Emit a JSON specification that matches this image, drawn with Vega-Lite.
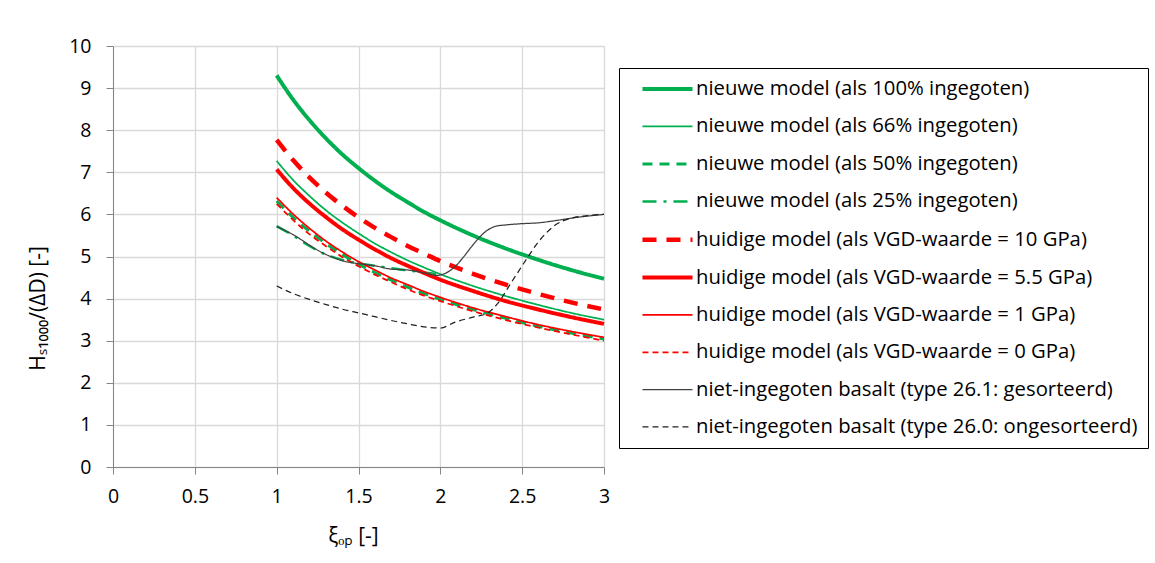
{
  "$schema": "https://vega.github.io/schema/vega-lite/v6.json",
  "width": 491,
  "height": 421,
  "autosize": {"type": "none"},
  "padding": {"left": 113, "top": 46, "right": 551, "bottom": 96},
  "background": "white",
  "config": {
    "view": {"stroke": null},
    "font": "Open Sans",
    "axis": {
      "labelFont": "Open Sans",
      "titleFont": "Open Sans",
      "labelFontSize": 19.5,
      "titleFontSize": 21,
      "labelColor": "#000000",
      "titleColor": "#000000",
      "titleFontWeight": "normal",
      "gridColor": "#d9d9d9",
      "gridWidth": 1.3,
      "domainColor": "#868686",
      "tickColor": "#868686",
      "tickSize": 7,
      "labelFlush": false
    },
    "legend": {"labelFont": "Open Sans"}
  },
  "data": {
    "values": [
      {"s": "nieuwe model (als 100% ingegoten)", "x": 1.0, "y": 9.30},
      {"s": "nieuwe model (als 100% ingegoten)", "x": 1.1, "y": 8.73},
      {"s": "nieuwe model (als 100% ingegoten)", "x": 1.2, "y": 8.24},
      {"s": "nieuwe model (als 100% ingegoten)", "x": 1.3, "y": 7.81},
      {"s": "nieuwe model (als 100% ingegoten)", "x": 1.4, "y": 7.43},
      {"s": "nieuwe model (als 100% ingegoten)", "x": 1.5, "y": 7.10},
      {"s": "nieuwe model (als 100% ingegoten)", "x": 1.6, "y": 6.80},
      {"s": "nieuwe model (als 100% ingegoten)", "x": 1.7, "y": 6.53},
      {"s": "nieuwe model (als 100% ingegoten)", "x": 1.8, "y": 6.29},
      {"s": "nieuwe model (als 100% ingegoten)", "x": 1.9, "y": 6.06},
      {"s": "nieuwe model (als 100% ingegoten)", "x": 2.0, "y": 5.86},
      {"s": "nieuwe model (als 100% ingegoten)", "x": 2.2, "y": 5.50},
      {"s": "nieuwe model (als 100% ingegoten)", "x": 2.4, "y": 5.19},
      {"s": "nieuwe model (als 100% ingegoten)", "x": 2.6, "y": 4.92},
      {"s": "nieuwe model (als 100% ingegoten)", "x": 2.8, "y": 4.68},
      {"s": "nieuwe model (als 100% ingegoten)", "x": 3.0, "y": 4.47},

      {"s": "nieuwe model (als 66% ingegoten)", "x": 1.0, "y": 7.27},
      {"s": "nieuwe model (als 66% ingegoten)", "x": 1.1, "y": 6.82},
      {"s": "nieuwe model (als 66% ingegoten)", "x": 1.2, "y": 6.44},
      {"s": "nieuwe model (als 66% ingegoten)", "x": 1.3, "y": 6.10},
      {"s": "nieuwe model (als 66% ingegoten)", "x": 1.4, "y": 5.81},
      {"s": "nieuwe model (als 66% ingegoten)", "x": 1.5, "y": 5.55},
      {"s": "nieuwe model (als 66% ingegoten)", "x": 1.6, "y": 5.31},
      {"s": "nieuwe model (als 66% ingegoten)", "x": 1.7, "y": 5.10},
      {"s": "nieuwe model (als 66% ingegoten)", "x": 1.8, "y": 4.91},
      {"s": "nieuwe model (als 66% ingegoten)", "x": 1.9, "y": 4.74},
      {"s": "nieuwe model (als 66% ingegoten)", "x": 2.0, "y": 4.58},
      {"s": "nieuwe model (als 66% ingegoten)", "x": 2.2, "y": 4.30},
      {"s": "nieuwe model (als 66% ingegoten)", "x": 2.4, "y": 4.06},
      {"s": "nieuwe model (als 66% ingegoten)", "x": 2.6, "y": 3.85},
      {"s": "nieuwe model (als 66% ingegoten)", "x": 2.8, "y": 3.66},
      {"s": "nieuwe model (als 66% ingegoten)", "x": 3.0, "y": 3.50},

      {"s": "nieuwe model (als 50% ingegoten)", "x": 1.0, "y": 6.32},
      {"s": "nieuwe model (als 50% ingegoten)", "x": 1.1, "y": 5.93},
      {"s": "nieuwe model (als 50% ingegoten)", "x": 1.2, "y": 5.60},
      {"s": "nieuwe model (als 50% ingegoten)", "x": 1.3, "y": 5.31},
      {"s": "nieuwe model (als 50% ingegoten)", "x": 1.4, "y": 5.05},
      {"s": "nieuwe model (als 50% ingegoten)", "x": 1.5, "y": 4.82},
      {"s": "nieuwe model (als 50% ingegoten)", "x": 1.6, "y": 4.62},
      {"s": "nieuwe model (als 50% ingegoten)", "x": 1.7, "y": 4.44},
      {"s": "nieuwe model (als 50% ingegoten)", "x": 1.8, "y": 4.27},
      {"s": "nieuwe model (als 50% ingegoten)", "x": 1.9, "y": 4.12},
      {"s": "nieuwe model (als 50% ingegoten)", "x": 2.0, "y": 3.98},
      {"s": "nieuwe model (als 50% ingegoten)", "x": 2.2, "y": 3.74},
      {"s": "nieuwe model (als 50% ingegoten)", "x": 2.4, "y": 3.53},
      {"s": "nieuwe model (als 50% ingegoten)", "x": 2.6, "y": 3.34},
      {"s": "nieuwe model (als 50% ingegoten)", "x": 2.8, "y": 3.18},
      {"s": "nieuwe model (als 50% ingegoten)", "x": 3.0, "y": 3.04},

      {"s": "nieuwe model (als 25% ingegoten)", "x": 1.0, "y": 5.72},
      {"s": "nieuwe model (als 25% ingegoten)", "x": 1.1, "y": 5.50},
      {"s": "nieuwe model (als 25% ingegoten)", "x": 1.2, "y": 5.25},
      {"s": "nieuwe model (als 25% ingegoten)", "x": 1.3, "y": 5.05},
      {"s": "nieuwe model (als 25% ingegoten)", "x": 1.4, "y": 4.92},
      {"s": "nieuwe model (als 25% ingegoten)", "x": 1.5, "y": 4.84},
      {"s": "nieuwe model (als 25% ingegoten)", "x": 1.6, "y": 4.78},
      {"s": "nieuwe model (als 25% ingegoten)", "x": 1.7, "y": 4.72},
      {"s": "nieuwe model (als 25% ingegoten)", "x": 1.8, "y": 4.67},
      {"s": "nieuwe model (als 25% ingegoten)", "x": 1.9, "y": 4.62},
      {"s": "nieuwe model (als 25% ingegoten)", "x": 2.0, "y": 4.57},

      {"s": "huidige model (als VGD-waarde = 10 GPa)", "x": 1.0, "y": 7.77},
      {"s": "huidige model (als VGD-waarde = 10 GPa)", "x": 1.1, "y": 7.29},
      {"s": "huidige model (als VGD-waarde = 10 GPa)", "x": 1.2, "y": 6.88},
      {"s": "huidige model (als VGD-waarde = 10 GPa)", "x": 1.3, "y": 6.52},
      {"s": "huidige model (als VGD-waarde = 10 GPa)", "x": 1.4, "y": 6.21},
      {"s": "huidige model (als VGD-waarde = 10 GPa)", "x": 1.5, "y": 5.93},
      {"s": "huidige model (als VGD-waarde = 10 GPa)", "x": 1.6, "y": 5.68},
      {"s": "huidige model (als VGD-waarde = 10 GPa)", "x": 1.7, "y": 5.46},
      {"s": "huidige model (als VGD-waarde = 10 GPa)", "x": 1.8, "y": 5.25},
      {"s": "huidige model (als VGD-waarde = 10 GPa)", "x": 1.9, "y": 5.07},
      {"s": "huidige model (als VGD-waarde = 10 GPa)", "x": 2.0, "y": 4.89},
      {"s": "huidige model (als VGD-waarde = 10 GPa)", "x": 2.2, "y": 4.59},
      {"s": "huidige model (als VGD-waarde = 10 GPa)", "x": 2.4, "y": 4.33},
      {"s": "huidige model (als VGD-waarde = 10 GPa)", "x": 2.6, "y": 4.11},
      {"s": "huidige model (als VGD-waarde = 10 GPa)", "x": 2.8, "y": 3.91},
      {"s": "huidige model (als VGD-waarde = 10 GPa)", "x": 3.0, "y": 3.74},

      {"s": "huidige model (als VGD-waarde = 5.5 GPa)", "x": 1.0, "y": 7.07},
      {"s": "huidige model (als VGD-waarde = 5.5 GPa)", "x": 1.1, "y": 6.63},
      {"s": "huidige model (als VGD-waarde = 5.5 GPa)", "x": 1.2, "y": 6.26},
      {"s": "huidige model (als VGD-waarde = 5.5 GPa)", "x": 1.3, "y": 5.94},
      {"s": "huidige model (als VGD-waarde = 5.5 GPa)", "x": 1.4, "y": 5.65},
      {"s": "huidige model (als VGD-waarde = 5.5 GPa)", "x": 1.5, "y": 5.40},
      {"s": "huidige model (als VGD-waarde = 5.5 GPa)", "x": 1.6, "y": 5.17},
      {"s": "huidige model (als VGD-waarde = 5.5 GPa)", "x": 1.7, "y": 4.96},
      {"s": "huidige model (als VGD-waarde = 5.5 GPa)", "x": 1.8, "y": 4.78},
      {"s": "huidige model (als VGD-waarde = 5.5 GPa)", "x": 1.9, "y": 4.61},
      {"s": "huidige model (als VGD-waarde = 5.5 GPa)", "x": 2.0, "y": 4.45},
      {"s": "huidige model (als VGD-waarde = 5.5 GPa)", "x": 2.2, "y": 4.18},
      {"s": "huidige model (als VGD-waarde = 5.5 GPa)", "x": 2.4, "y": 3.94},
      {"s": "huidige model (als VGD-waarde = 5.5 GPa)", "x": 2.6, "y": 3.74},
      {"s": "huidige model (als VGD-waarde = 5.5 GPa)", "x": 2.8, "y": 3.56},
      {"s": "huidige model (als VGD-waarde = 5.5 GPa)", "x": 3.0, "y": 3.40},

      {"s": "huidige model (als VGD-waarde = 1 GPa)", "x": 1.0, "y": 6.40},
      {"s": "huidige model (als VGD-waarde = 1 GPa)", "x": 1.1, "y": 6.01},
      {"s": "huidige model (als VGD-waarde = 1 GPa)", "x": 1.2, "y": 5.67},
      {"s": "huidige model (als VGD-waarde = 1 GPa)", "x": 1.3, "y": 5.37},
      {"s": "huidige model (als VGD-waarde = 1 GPa)", "x": 1.4, "y": 5.11},
      {"s": "huidige model (als VGD-waarde = 1 GPa)", "x": 1.5, "y": 4.88},
      {"s": "huidige model (als VGD-waarde = 1 GPa)", "x": 1.6, "y": 4.68},
      {"s": "huidige model (als VGD-waarde = 1 GPa)", "x": 1.7, "y": 4.49},
      {"s": "huidige model (als VGD-waarde = 1 GPa)", "x": 1.8, "y": 4.33},
      {"s": "huidige model (als VGD-waarde = 1 GPa)", "x": 1.9, "y": 4.17},
      {"s": "huidige model (als VGD-waarde = 1 GPa)", "x": 2.0, "y": 4.03},
      {"s": "huidige model (als VGD-waarde = 1 GPa)", "x": 2.2, "y": 3.78},
      {"s": "huidige model (als VGD-waarde = 1 GPa)", "x": 2.4, "y": 3.57},
      {"s": "huidige model (als VGD-waarde = 1 GPa)", "x": 2.6, "y": 3.38},
      {"s": "huidige model (als VGD-waarde = 1 GPa)", "x": 2.8, "y": 3.22},
      {"s": "huidige model (als VGD-waarde = 1 GPa)", "x": 3.0, "y": 3.08},

      {"s": "huidige model (als VGD-waarde = 0 GPa)", "x": 1.0, "y": 6.25},
      {"s": "huidige model (als VGD-waarde = 0 GPa)", "x": 1.1, "y": 5.87},
      {"s": "huidige model (als VGD-waarde = 0 GPa)", "x": 1.2, "y": 5.53},
      {"s": "huidige model (als VGD-waarde = 0 GPa)", "x": 1.3, "y": 5.25},
      {"s": "huidige model (als VGD-waarde = 0 GPa)", "x": 1.4, "y": 4.99},
      {"s": "huidige model (als VGD-waarde = 0 GPa)", "x": 1.5, "y": 4.77},
      {"s": "huidige model (als VGD-waarde = 0 GPa)", "x": 1.6, "y": 4.57},
      {"s": "huidige model (als VGD-waarde = 0 GPa)", "x": 1.7, "y": 4.39},
      {"s": "huidige model (als VGD-waarde = 0 GPa)", "x": 1.8, "y": 4.22},
      {"s": "huidige model (als VGD-waarde = 0 GPa)", "x": 1.9, "y": 4.07},
      {"s": "huidige model (als VGD-waarde = 0 GPa)", "x": 2.0, "y": 3.94},
      {"s": "huidige model (als VGD-waarde = 0 GPa)", "x": 2.2, "y": 3.70},
      {"s": "huidige model (als VGD-waarde = 0 GPa)", "x": 2.4, "y": 3.49},
      {"s": "huidige model (als VGD-waarde = 0 GPa)", "x": 2.6, "y": 3.31},
      {"s": "huidige model (als VGD-waarde = 0 GPa)", "x": 2.8, "y": 3.15},
      {"s": "huidige model (als VGD-waarde = 0 GPa)", "x": 3.0, "y": 3.00},

      {"s": "niet-ingegoten basalt (type 26.1: gesorteerd)", "x": 1.0, "y": 5.71},
      {"s": "niet-ingegoten basalt (type 26.1: gesorteerd)", "x": 1.05, "y": 5.62},
      {"s": "niet-ingegoten basalt (type 26.1: gesorteerd)", "x": 1.1, "y": 5.52},
      {"s": "niet-ingegoten basalt (type 26.1: gesorteerd)", "x": 1.15, "y": 5.40},
      {"s": "niet-ingegoten basalt (type 26.1: gesorteerd)", "x": 1.2, "y": 5.27},
      {"s": "niet-ingegoten basalt (type 26.1: gesorteerd)", "x": 1.25, "y": 5.15},
      {"s": "niet-ingegoten basalt (type 26.1: gesorteerd)", "x": 1.3, "y": 5.05},
      {"s": "niet-ingegoten basalt (type 26.1: gesorteerd)", "x": 1.35, "y": 4.97},
      {"s": "niet-ingegoten basalt (type 26.1: gesorteerd)", "x": 1.4, "y": 4.90},
      {"s": "niet-ingegoten basalt (type 26.1: gesorteerd)", "x": 1.5, "y": 4.83},
      {"s": "niet-ingegoten basalt (type 26.1: gesorteerd)", "x": 1.6, "y": 4.78},
      {"s": "niet-ingegoten basalt (type 26.1: gesorteerd)", "x": 1.7, "y": 4.70},
      {"s": "niet-ingegoten basalt (type 26.1: gesorteerd)", "x": 1.8, "y": 4.68},
      {"s": "niet-ingegoten basalt (type 26.1: gesorteerd)", "x": 1.9, "y": 4.61},
      {"s": "niet-ingegoten basalt (type 26.1: gesorteerd)", "x": 1.98, "y": 4.55},
      {"s": "niet-ingegoten basalt (type 26.1: gesorteerd)", "x": 2.03, "y": 4.60},
      {"s": "niet-ingegoten basalt (type 26.1: gesorteerd)", "x": 2.09, "y": 4.76},
      {"s": "niet-ingegoten basalt (type 26.1: gesorteerd)", "x": 2.14, "y": 4.98},
      {"s": "niet-ingegoten basalt (type 26.1: gesorteerd)", "x": 2.19, "y": 5.23},
      {"s": "niet-ingegoten basalt (type 26.1: gesorteerd)", "x": 2.24, "y": 5.46},
      {"s": "niet-ingegoten basalt (type 26.1: gesorteerd)", "x": 2.29, "y": 5.63},
      {"s": "niet-ingegoten basalt (type 26.1: gesorteerd)", "x": 2.34, "y": 5.72},
      {"s": "niet-ingegoten basalt (type 26.1: gesorteerd)", "x": 2.4, "y": 5.75},
      {"s": "niet-ingegoten basalt (type 26.1: gesorteerd)", "x": 2.5, "y": 5.78},
      {"s": "niet-ingegoten basalt (type 26.1: gesorteerd)", "x": 2.6, "y": 5.80},
      {"s": "niet-ingegoten basalt (type 26.1: gesorteerd)", "x": 2.7, "y": 5.85},
      {"s": "niet-ingegoten basalt (type 26.1: gesorteerd)", "x": 2.8, "y": 5.91},
      {"s": "niet-ingegoten basalt (type 26.1: gesorteerd)", "x": 2.9, "y": 5.96},
      {"s": "niet-ingegoten basalt (type 26.1: gesorteerd)", "x": 3.0, "y": 6.00},

      {"s": "niet-ingegoten basalt (type 26.0: ongesorteerd)", "x": 1.0, "y": 4.30},
      {"s": "niet-ingegoten basalt (type 26.0: ongesorteerd)", "x": 1.1, "y": 4.12},
      {"s": "niet-ingegoten basalt (type 26.0: ongesorteerd)", "x": 1.2, "y": 3.98},
      {"s": "niet-ingegoten basalt (type 26.0: ongesorteerd)", "x": 1.3, "y": 3.86},
      {"s": "niet-ingegoten basalt (type 26.0: ongesorteerd)", "x": 1.4, "y": 3.75},
      {"s": "niet-ingegoten basalt (type 26.0: ongesorteerd)", "x": 1.5, "y": 3.66},
      {"s": "niet-ingegoten basalt (type 26.0: ongesorteerd)", "x": 1.6, "y": 3.57},
      {"s": "niet-ingegoten basalt (type 26.0: ongesorteerd)", "x": 1.7, "y": 3.48},
      {"s": "niet-ingegoten basalt (type 26.0: ongesorteerd)", "x": 1.8, "y": 3.40},
      {"s": "niet-ingegoten basalt (type 26.0: ongesorteerd)", "x": 1.9, "y": 3.33},
      {"s": "niet-ingegoten basalt (type 26.0: ongesorteerd)", "x": 2.0, "y": 3.30},
      {"s": "niet-ingegoten basalt (type 26.0: ongesorteerd)", "x": 2.09, "y": 3.44},
      {"s": "niet-ingegoten basalt (type 26.0: ongesorteerd)", "x": 2.2, "y": 3.56},
      {"s": "niet-ingegoten basalt (type 26.0: ongesorteerd)", "x": 2.29, "y": 3.66},
      {"s": "niet-ingegoten basalt (type 26.0: ongesorteerd)", "x": 2.35, "y": 3.88},
      {"s": "niet-ingegoten basalt (type 26.0: ongesorteerd)", "x": 2.43, "y": 4.36},
      {"s": "niet-ingegoten basalt (type 26.0: ongesorteerd)", "x": 2.51, "y": 4.84},
      {"s": "niet-ingegoten basalt (type 26.0: ongesorteerd)", "x": 2.6, "y": 5.35},
      {"s": "niet-ingegoten basalt (type 26.0: ongesorteerd)", "x": 2.7, "y": 5.74},
      {"s": "niet-ingegoten basalt (type 26.0: ongesorteerd)", "x": 2.8, "y": 5.91},
      {"s": "niet-ingegoten basalt (type 26.0: ongesorteerd)", "x": 2.9, "y": 5.97},
      {"s": "niet-ingegoten basalt (type 26.0: ongesorteerd)", "x": 3.0, "y": 6.00}
    ]
  },
  "mark": {"type": "line", "interpolate": "monotone", "strokeCap": "butt"},
  "encoding": {
    "x": {
      "field": "x", "type": "quantitative",
      "scale": {"domain": [0, 3], "nice": false},
      "axis": {"values": [0, 0.5, 1, 1.5, 2, 2.5, 3], "format": "~g", "title": "ξₒₚ  [-]", "titleX": 240, "labelPadding": 13, "titlePadding": 20}
    },
    "y": {
      "field": "y", "type": "quantitative",
      "scale": {"domain": [0, 10], "nice": false},
      "axis": {"values": [0, 1, 2, 3, 4, 5, 6, 7, 8, 9, 10], "title": "Hₛ₁₀₀₀/(ΔD)  [-]", "titleFontSize": 21, "titleY": 262, "labelPadding": 15, "titlePadding": 20}
    },
    "color": {
      "field": "s", "type": "nominal",
      "scale": {
        "domain": [
          "nieuwe model (als 100% ingegoten)",
          "nieuwe model (als 66% ingegoten)",
          "nieuwe model (als 50% ingegoten)",
          "nieuwe model (als 25% ingegoten)",
          "huidige model (als VGD-waarde = 10 GPa)",
          "huidige model (als VGD-waarde = 5.5 GPa)",
          "huidige model (als VGD-waarde = 1 GPa)",
          "huidige model (als VGD-waarde = 0 GPa)",
          "niet-ingegoten basalt (type 26.1: gesorteerd)",
          "niet-ingegoten basalt (type 26.0: ongesorteerd)"
        ],
        "range": ["#00b050", "#00b050", "#00b050", "#00b050", "#ff0000", "#ff0000", "#ff0000", "#ff0000", "#404040", "#202020"]
      },
      "legend": {
        "title": null,
        "orient": "none",
        "legendX": 506,
        "legendY": 22,
        "strokeColor": "#000000",
        "fillColor": "white",
        "padding": 10,
        "symbolType": "M0.22,0H5.78",
        "symbolSize": 324,
        "labelFontSize": 20.3,
        "labelColor": "#000000",
        "labelOffset": 44,
        "rowPadding": 16.3,
        "labelLimit": 600
      }
    },
    "strokeDash": {
      "field": "s", "type": "nominal",
      "scale": {
        "domain": [
          "nieuwe model (als 100% ingegoten)",
          "nieuwe model (als 66% ingegoten)",
          "nieuwe model (als 50% ingegoten)",
          "nieuwe model (als 25% ingegoten)",
          "huidige model (als VGD-waarde = 10 GPa)",
          "huidige model (als VGD-waarde = 5.5 GPa)",
          "huidige model (als VGD-waarde = 1 GPa)",
          "huidige model (als VGD-waarde = 0 GPa)",
          "niet-ingegoten basalt (type 26.1: gesorteerd)",
          "niet-ingegoten basalt (type 26.0: ongesorteerd)"
        ],
        "range": [[1, 0], [1, 0], [10, 7], [14, 7, 3, 7], [14, 10], [1, 0], [1, 0], [6, 4], [1, 0], [6, 4]]
      }
    },
    "strokeWidth": {
      "field": "s", "type": "nominal",
      "scale": {
        "type": "ordinal",
        "domain": [
          "nieuwe model (als 100% ingegoten)",
          "nieuwe model (als 66% ingegoten)",
          "nieuwe model (als 50% ingegoten)",
          "nieuwe model (als 25% ingegoten)",
          "huidige model (als VGD-waarde = 10 GPa)",
          "huidige model (als VGD-waarde = 5.5 GPa)",
          "huidige model (als VGD-waarde = 1 GPa)",
          "huidige model (als VGD-waarde = 0 GPa)",
          "niet-ingegoten basalt (type 26.1: gesorteerd)",
          "niet-ingegoten basalt (type 26.0: ongesorteerd)"
        ],
        "range": [4, 1.75, 3, 2.5, 4.5, 4, 1.75, 1.75, 1.25, 1.25]
      }
    }
  }
}
